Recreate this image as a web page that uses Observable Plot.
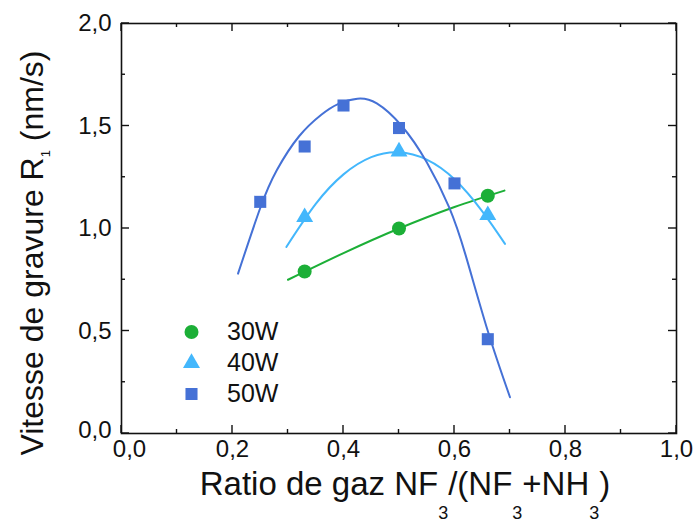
<!DOCTYPE html>
<html>
<head>
<meta charset="utf-8">
<script src="https://cdn.jsdelivr.net/npm/d3@7"></script>
<script src="https://cdn.jsdelivr.net/npm/@observablehq/plot@0.6"></script>
<style>
  html, body { margin: 0; padding: 0; background: #fff; }
  #chart svg { display: block; }
</style>
</head>
<body>
<div id="chart"></div>
<script>
// ---- data ----
const seriesNames = ["30W", "40W", "50W"];
const seriesColors = ["#1caf37", "#43b7fc", "#4571d6"];
const seriesSymbols = ["circle", "triangle", "square"];

const x30 = [0.33, 0.50, 0.66];
const y30 = [0.79, 1.00, 1.16];
const x40 = [0.33, 0.50, 0.66];
const y40 = [1.055, 1.375, 1.065];
const x50 = [0.25, 0.33, 0.40, 0.50, 0.60, 0.66];
const y50 = [1.13, 1.40, 1.60, 1.49, 1.22, 0.46];

// fitted curves
const fit30x = [0.30, 0.40, 0.50, 0.60, 0.69];
const fit30y = [0.75, 0.88, 1.00, 1.105, 1.185];
const fit40x = [0.297, 0.35, 0.40, 0.45, 0.50, 0.55, 0.60, 0.65, 0.691];
const fit40y = [0.91, 1.12, 1.264, 1.348, 1.372, 1.336, 1.24, 1.084, 0.925];
const fit50x = [0.21, 0.25, 0.28, 0.32, 0.36, 0.39, 0.425, 0.46, 0.505, 0.55, 0.59, 0.62, 0.66, 0.70];
const fit50y = [0.78, 1.10, 1.285, 1.45, 1.555, 1.607, 1.633, 1.61, 1.50, 1.323, 1.105, 0.87, 0.50, 0.177];

const xMajor = [0, 0.2, 0.4, 0.6, 0.8, 1.0];
const xMinor = [0.1, 0.3, 0.5, 0.7, 0.9];
const yMajor = [0, 0.5, 1.0, 1.5, 2.0];
const yMinor = [0.25, 0.75, 1.25, 1.75];

// ---- layout ----
const W = 694, H = 523, mL = 121, mR = 18, mT = 23, mB = 90;
const majorLen = 8, minorLen = 4;
const FONT = "Liberation Sans, Arial, sans-serif";

// ---- build tables ----
const pts = (xs, ys) => xs.map((x, i) => ({x, y: ys[i]}));
const points = [pts(x30, y30), pts(x40, y40), pts(x50, y50)];
const fits = [pts(fit30x, fit30y), pts(fit40x, fit40y), pts(fit50x, fit50y)];
const fmt = d => d.toFixed(1).replace(".", ",");
const symR = {circle: 7, triangle: 6.3, square: 6.8};

const marks = [];
// fit curves
fits.forEach((f, i) => marks.push(Plot.line(f, {x: "x", y: "y", curve: "natural", stroke: seriesColors[i], strokeWidth: 2})));
// data points
points.forEach((p, i) => marks.push(Plot.dot(p, {x: "x", y: "y", symbol: () => seriesSymbols[i], r: symR[seriesSymbols[i]], fill: seriesColors[i], stroke: "none"})));
// legend
seriesNames.forEach((name, i) => {
  marks.push(Plot.dot([name], {frameAnchor: "top-left", dx: 70, dy: 308.5 + i * 31, symbol: () => seriesSymbols[i], r: symR[seriesSymbols[i]], fill: seriesColors[i], stroke: "none"}));
  marks.push(Plot.text([name], {frameAnchor: "top-left", dx: 105.5, dy: 308.5 + i * 31, text: d => d, textAnchor: "start", lineAnchor: "middle", fontSize: 25, fill: "#111"}));
});
// frame
marks.push(Plot.frame({stroke: "#111", strokeWidth: 1.6}));
// tick labels (the origin labels are nudged apart, as in the original)
const labX = {anchor: "bottom", tickSize: 0, tickPadding: 6, tickFormat: fmt, fontSize: 24, label: null, fill: "#111"};
const labY = {anchor: "left", tickSize: 0, tickPadding: 10, tickFormat: fmt, fontSize: 24, label: null, fill: "#111"};
marks.push(Plot.axisX(xMajor.slice(0, 1), {...labX, dx: 8}));
marks.push(Plot.axisX(xMajor.slice(1), labX));
marks.push(Plot.axisY(yMajor.slice(0, 1), {...labY, dy: -3}));
marks.push(Plot.axisY(yMajor.slice(1), labY));

const chart = Plot.plot({
  width: W,
  height: H,
  marginLeft: mL,
  marginRight: mR,
  marginTop: mT,
  marginBottom: mB,
  style: {fontFamily: FONT, background: "#fff", overflow: "visible"},
  x: {domain: [0, 1], axis: null},
  y: {domain: [0, 2], axis: null},
  marks
});
document.getElementById("chart").appendChild(chart);

const svg = d3.select(chart);

// inward ticks on all four sides, positioned with Plot's own scales
const sx = chart.scale("x"), sy = chart.scale("y");
const X = v => sx.apply(v), Y = v => sy.apply(v);
const x0 = X(0), x1 = X(1), y0 = Y(0), y1 = Y(2);
const tg = svg.append("g").attr("stroke", "#111").attr("stroke-width", 1.4);
[[xMajor, majorLen], [xMinor, minorLen]].forEach(([vals, len]) => vals.forEach(v => {
  tg.append("line").attr("x1", X(v)).attr("x2", X(v)).attr("y1", y0).attr("y2", y0 - len);
  tg.append("line").attr("x1", X(v)).attr("x2", X(v)).attr("y1", y1).attr("y2", y1 + len);
}));
[[yMajor, majorLen], [yMinor, minorLen]].forEach(([vals, len]) => vals.forEach(v => {
  tg.append("line").attr("y1", Y(v)).attr("y2", Y(v)).attr("x1", x0).attr("x2", x0 + len);
  tg.append("line").attr("y1", Y(v)).attr("y2", Y(v)).attr("x1", x1).attr("x2", x1 - len);
}));

// axis titles with subscripts
const subDy = 24;
const xt = svg.append("text")
  .attr("x", 405).attr("y", 495)
  .attr("text-anchor", "middle")
  .attr("font-family", FONT)
  .attr("font-size", 33).attr("fill", "#111");
xt.append("tspan").text("Ratio de gaz NF");
xt.append("tspan").text("3").attr("font-size", 18).attr("dy", subDy);
xt.append("tspan").text("/(NF").attr("dy", -subDy);
xt.append("tspan").text("3").attr("font-size", 18).attr("dy", subDy);
xt.append("tspan").text("+NH").attr("dy", -subDy);
xt.append("tspan").text("3").attr("font-size", 18).attr("dy", subDy);
xt.append("tspan").text(")").attr("dy", -subDy);

const yt = svg.append("text")
  .attr("transform", "translate(43,253) rotate(-90)")
  .attr("text-anchor", "middle")
  .attr("font-family", FONT)
  .attr("font-size", 32).attr("fill", "#111");
yt.append("tspan").text("Vitesse de gravure R");
yt.append("tspan").text("1").attr("font-size", 13).attr("dy", 7);
yt.append("tspan").text(" (nm/s)").attr("dy", -7);
</script>
</body>
</html>
